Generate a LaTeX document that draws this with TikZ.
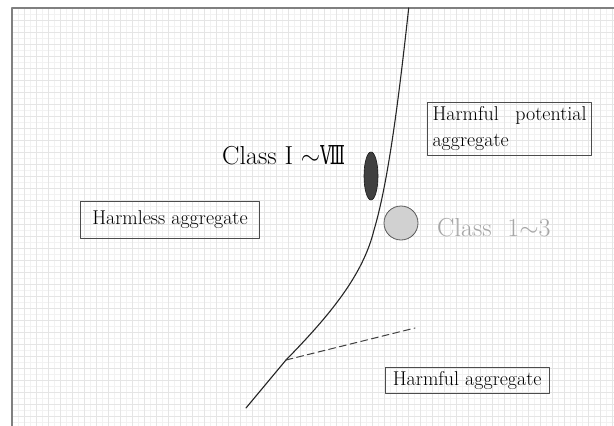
\documentclass[tikz,border=0pt]{standalone}
\usepackage{fontspec}
\usepackage{tikz}
\usetikzlibrary{shapes.geometric}
\newfontfamily\numeralfont{DejaVu Serif}

\begin{document}
\begin{tikzpicture}[
						x=1pt, y=-1pt,
						line cap=round,
						line join=round,
						labelbox/.style={draw=black!70, line width=0.8pt, inner sep=2pt,
							font=\fontsize{20}{26}\selectfont},
						classlabel/.style={inner sep=0pt, font=\fontsize{26}{30}\selectfont}
						]
						
						\useasboundingbox (0,0) rectangle (614,426);
						
						% Graph paper
						\foreach \x in {18,30,...,614}
						\draw[black!5, line width=0.3pt] (\x,8) -- (\x,426);
						\foreach \y in {14,26,...,426}
						\draw[black!5, line width=0.3pt] (12,\y) -- (614,\y);
						\foreach \x in {24,36,...,614}
						\draw[black!10, line width=0.4pt] (\x,8) -- (\x,426);
						\foreach \y in {20,32,...,426}
						\draw[black!10, line width=0.4pt] (12,\y) -- (614,\y);
						\draw[black!50, line width=1.2pt] (12,426) -- (12,8) -- (614,8);
						
						% Boundary curve
						\coordinate (kink) at (286,360);
						\draw[line width=1.1pt, black!85]
						(408.7,8)
						.. controls (399.9,88) and (389,180) .. (374,230)
						.. controls (363,275) and (330,315) .. (kink)
						-- (246,408);
						
						% Dashed branch
						\coordinate (dashend) at (415,328);
						\draw[black!75, line width=1pt, dash pattern=on 7pt off 4pt] (kink) -- (dashend);
						
						% Marks
						\node[ellipse, draw=black!90, fill=black!75, line width=0.6pt,
						minimum width=14, minimum height=48, inner sep=0pt] (darkmark) at (371,176) {};
						\node[circle, draw=black!65, fill=black!18, line width=0.8pt,
						minimum size=34, inner sep=0pt] (greymark) at (401,223) {};
						
						\node[classlabel, anchor=base west] (romanlabel) at (222,164)
						{Class I $\sim$\scalebox{0.6}[1]{\numeralfont Ⅷ}};
						\node[classlabel, anchor=base west, text=black!35] (arabiclabel) at (437,236)
						{Class \ 1$\sim$3};
						
						% Region boxes
						\node[labelbox, minimum width=178.6, minimum height=37.3] (harmless) at (170,219.6)
						{Harmless aggregate};
						\node[labelbox, minimum width=164.3, minimum height=25.6] (harmful) at (467.2,380.5)
						{Harmful aggregate};
						\node[labelbox, inner xsep=5pt, text width=154, align=left,
						minimum height=52.6] (potential) at (509.5,128.7)
						{Harmful\hfill potential\\aggregate};
						
					\end{tikzpicture}
\end{document}
